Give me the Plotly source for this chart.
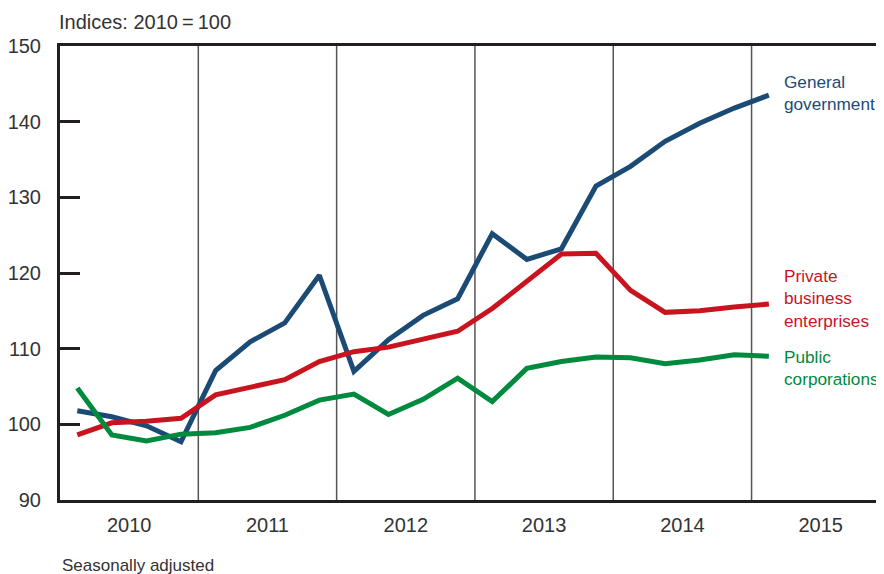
import plotly.graph_objects as go

# Quarterly data, 2010 Q1 .. 2015 Q1
quarters = [f"{y}Q{q}" for y in range(2010, 2016) for q in range(1, 5)][:21]
general_government = [101.8, 101.0, 99.8, 97.7, 107.1, 110.9, 113.4, 119.7, 107.0, 111.2,
                      114.4, 116.6, 125.2, 121.8, 123.2, 131.5, 134.1, 137.4, 139.8, 141.8, 143.5]
private_business = [98.6, 100.2, 100.4, 100.8, 103.9, 104.9, 105.9, 108.3, 109.6, 110.2,
                    111.3, 112.3, 115.3, 118.9, 122.5, 122.6, 117.7, 114.8, 115.0, 115.5, 115.9]
public_corporations = [104.8, 98.6, 97.8, 98.7, 98.9, 99.6, 101.2, 103.2, 104.0, 101.3,
                       103.3, 106.1, 103.0, 107.4, 108.3, 108.9, 108.8, 108.0, 108.5, 109.2, 109.0]
years = ["2010", "2011", "2012", "2013", "2014", "2015"]
y_ticks = [90, 100, 110, 120, 130, 140, 150]

# numeric position: quarter centres (0.5 = 2010 Q1), years span 4 units
xpos = [i + 0.5 for i in range(len(quarters))]
year_centres = [4 * i + 2 for i in range(len(years))]
year_bounds = [4 * i for i in range(1, len(years))]

series = [
    ("General<br>government", general_government, "#1b4b74", 2),
    ("Private<br>business<br>enterprises", private_business, "#c9141f", 6),
    ("Public<br>corporations", public_corporations, "#008a3e", -12),
]

FONT = "Liberation Sans, Arial, sans-serif"
fig = go.Figure()
for b in year_bounds:
    fig.add_shape(type="line", xref="x", yref="paper", x0=b, x1=b, y0=0, y1=1,
                  line=dict(color="#555555", width=1.5), layer="below")

for name, vals, col, ysh in series:
    fig.add_trace(go.Scatter(x=xpos, y=vals, mode="lines", name=name.replace("<br>", " "),
                             line=dict(color=col, width=5), showlegend=False,
                             hoverinfo="skip"))
    fig.add_annotation(x=xpos[-1], y=vals[-1], xref="x", yref="y", text=name,
                       showarrow=False, xanchor="left", yanchor="middle", align="left",
                       xshift=13, yshift=ysh, font=dict(family=FONT, size=17.2, color=col))

fig.add_annotation(text="Indices: 2010\u2009=\u2009100", xref="paper", yref="paper",
                   x=-0.004, y=1.0, yshift=24, xanchor="left", yanchor="middle",
                   showarrow=False, font=dict(family=FONT, size=20, color="#333333"))
fig.add_annotation(text="Seasonally adjusted", xref="paper", yref="paper",
                   x=0.0, y=0, yshift=-65, xanchor="left", yanchor="middle",
                   showarrow=False, font=dict(family=FONT, size=17, color="#333333"))

fig.update_layout(
    width=876, height=566,
    margin=dict(l=52, r=0, t=38, b=74),
    paper_bgcolor="white", plot_bgcolor="white",
    font=dict(family=FONT, color="#333333"),
    xaxis=dict(range=[0, 23.83], tickmode="array", tickvals=year_centres, ticktext=years,
               showgrid=False, zeroline=False, showline=True, linecolor="#231f20",
               linewidth=3, mirror=True, ticks="", tickfont=dict(size=20, color="#333333"),
               ticklabelstandoff=5),
    yaxis=dict(range=[90, 150], tickmode="array", tickvals=y_ticks,
               showgrid=False, zeroline=False, showline=True, linecolor="#231f20",
               linewidth=3, ticks="inside", ticklen=20, tickwidth=3, tickcolor="#231f20",
               tickfont=dict(size=20, color="#333333"), ticklabelstandoff=12),
)
fig.write_html("out.html")
